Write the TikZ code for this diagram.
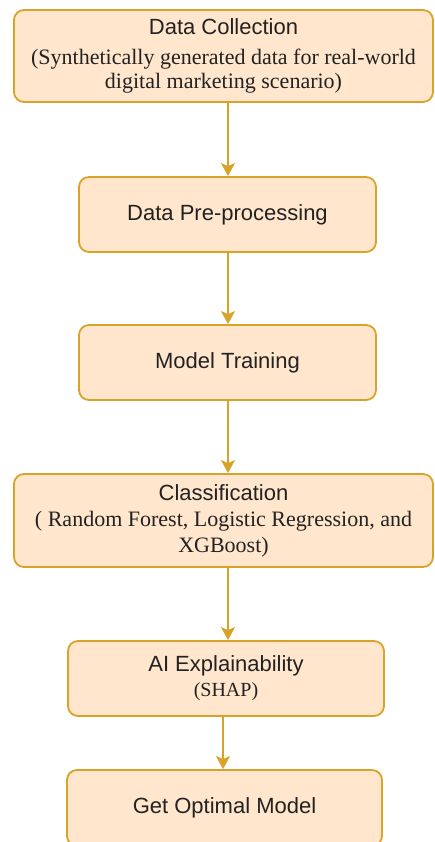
\documentclass[tikz,border=0pt]{standalone}
\usepackage{fontspec}
\setmainfont{Liberation Serif}
\setsansfont{Liberation Sans}
\usetikzlibrary{arrows.meta}
\definecolor{boxfill}{HTML}{FFE6CC}
\definecolor{boxline}{HTML}{D9A32A}
\definecolor{txt}{HTML}{222222}
\newcommand{\sanstxt}{\sffamily\fontsize{22}{24}\selectfont}
\newcommand{\seriftxt}{\rmfamily\fontsize{22}{23}\selectfont}
\begin{document}
\begin{tikzpicture}[x=1pt,y=-1pt,
  box/.style={draw=boxline, fill=boxfill, line width=1.8pt, rounded corners=10pt,
    text=txt, align=center, inner sep=0pt, font=\sanstxt},
  conn/.style={draw=boxline, line width=1.8pt, -{Stealth[length=13pt,width=14pt,inset=3pt]}}]
\useasboundingbox (0,0) rectangle (435,842);
\node[box, minimum width=419pt, minimum height=92pt] (b1) at (223.5,56)
  {Data Collection\\[6pt]
   \seriftxt (Synthetically generated data for real-world\\
   \seriftxt digital marketing scenario)};
\node[box, minimum width=297pt, minimum height=75pt] (b2) at (227.5,214.5)
  {Data Pre-processing};
\node[box, minimum width=297pt, minimum height=75pt] (b3) at (227.5,362.5)
  {Model Training};
\node[box, minimum width=419pt, minimum height=93pt] (b4) at (223.5,520.5)
  {Classification\\[2pt]
   \seriftxt ( Random Forest, Logistic Regression, and\\[2pt]
   \seriftxt XGBoost)};
\node[box, minimum width=316pt, minimum height=75pt] (b5) at (226,678.5)
  {AI Explainability\\[1pt]
   \rmfamily\fontsize{20}{22}\selectfont (SHAP)};
\node[box, minimum width=315pt, minimum height=76pt] (b6) at (224.5,808)
  {Get Optimal Model};
\coordinate (ax) at (228,0);
\coordinate (ay) at (223,0);
\draw[conn] (b1.south -| ax) -- (b2.north -| ax);
\draw[conn] (b2.south -| ax) -- (b3.north -| ax);
\draw[conn] (b3.south -| ax) -- (b4.north -| ax);
\draw[conn] (b4.south -| ax) -- (b5.north -| ax);
\draw[conn] (b5.south -| ay) -- (b6.north -| ay);
\end{tikzpicture}
\end{document}
